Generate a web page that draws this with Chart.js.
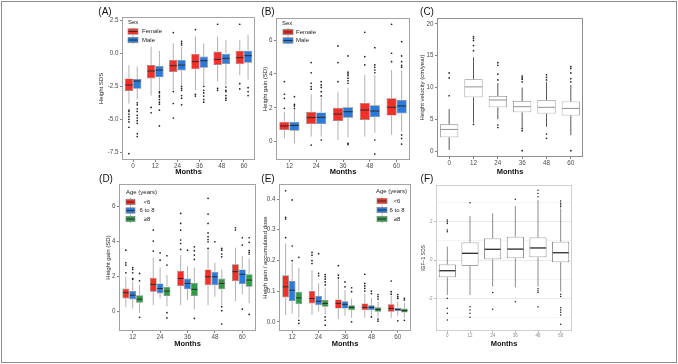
<!DOCTYPE html>
<html><head><meta charset="utf-8">
<script src="https://cdn.jsdelivr.net/npm/chart.js@4"></script>
<style>
html,body{margin:0;padding:0;background:#fff;}
#fig{position:relative;width:678px;height:364px;overflow:hidden;background:#fff;}
#frame{position:absolute;left:1px;top:1px;width:674px;height:360px;border:1px solid #8c8c8c;}
canvas{position:absolute;}
.lab{position:absolute;font:10px 'Liberation Sans',Arial,sans-serif;color:#111;transform:translate(-50%,-50%);white-space:nowrap;}
</style></head><body>
<div id="fig"><div id="frame"></div>
<canvas id="cA"></canvas><canvas id="cB"></canvas><canvas id="cC"></canvas>
<canvas id="cD"></canvas><canvas id="cE"></canvas><canvas id="cF"></canvas>
<div class="lab" style="left:105px;top:11px">(A)</div>
<div class="lab" style="left:268px;top:11px">(B)</div>
<div class="lab" style="left:427px;top:11px">(C)</div>
<div class="lab" style="left:106px;top:178px">(D)</div>
<div class="lab" style="left:268px;top:178px">(E)</div>
<div class="lab" style="left:427px;top:178px">(F)</div>
</div>
<script>
const FONT = "'Liberation Sans', Arial, sans-serif";
const months6 = ['0','12','24','36','48','60'];
const months5 = ['12','24','36','48','60'];

// each box: [lower whisker, Q1, median, Q3, upper whisker]
// (A) Height SDS by sex
const A_female = [[-3.8,-2.86,-2.4,-1.9,-0.89],[-3.2,-1.9,-1.34,-0.89,0.5],[-2.8,-1.42,-0.94,-0.5,0.76],[-2.8,-1.2,-0.63,0.0,1.27],[-2.15,-0.89,-0.46,0.13,1.27],[-1.65,-0.82,-0.33,0.2,1.0]];
const A_female_out = [[-4.3,-4.4,-4.6,-4.8,-5.0,-5.2,-5.6,-7.6],[-4.1,-4.5],[1.57,-2.9,-3.8,-4.9],[1.8,-3.1,-3.24],[2.2,-2.66,-2.8],[2.2,-2.3,-2.7]];
const A_male = [[-3.5,-2.68,-2.1,-1.95,-1.0],[-2.8,-1.82,-1.27,-0.96,0.18],[-2.4,-1.3,-0.89,-0.5,0.5],[-2.4,-1.09,-0.56,-0.25,0.76],[-2.4,-0.81,-0.38,0.0,1.0],[-2.0,-0.72,-0.18,0.2,1.4]];
const A_male_out = [[-3.75,-3.9,-4.2,-4.4,-4.7,-4.9,-5.1,-5.3,-6.1,-6.3],[-2.9,-3.0,-3.2,-3.3,-3.5,-3.7,-3.85,-4.3,-5.5],[0.9,0.76,0.63,-2.5,-2.66,-2.8,-3.2,-3.4,-3.9],[-2.5,-2.8,-3.0,-3.24,-3.5,-3.7],[-2.55,-2.8,-2.9,-3.2,-3.4,-3.55],[-2.6,-2.9,-3.2]];

// (B) Height gain (SD) by sex
const B_female = [[0.2,0.69,0.93,1.18,1.77],[0.3,1.04,1.42,1.77,2.8],[0.1,1.22,1.63,2.0,2.95],[0.3,1.28,1.87,2.3,3.94],[0.4,1.54,2.03,2.56,4.23]];
const B_female_out = [[1.97,2.56,2.8,3.54],[4.67,4.07,3.45,3.25,3.1,-0.2],[5.65,4.67,3.54],[6.46,5.02,4.53],[6.93,5.22,4.72]];
const B_male = [[-0.1,0.65,0.96,1.18,1.9],[0.3,1.04,1.44,1.73,2.6],[0.26,1.42,1.77,2.03,3.2],[0.53,1.44,1.81,2.15,3.94],[0.6,1.67,2.11,2.46,4.23]];
const B_male_out = [[2.66,2.2,2.11,1.97],[3.54,3.35,3.2,2.95,2.7,0.1],[5.06,4.1,4.0,3.9,3.75,3.6,3.45,-0.1,-0.16],[5.55,4.53,4.39,4.23,4.07,0.1,-0.73],[5.9,5.06,4.72,4.5,4.4,0.4,0.2,-0.14]];

// (C) Height velocity (cm/year)
const C_all = [[0.16,2.16,3.4,4.2,6.6],[4.46,8.46,10.1,11.3,14.75],[5.0,6.88,8.03,8.66,10.7],[3.73,6.09,6.98,7.87,10.0],[3.8,5.9,6.88,8.03,10.9],[2.5,5.6,6.7,7.8,10.4]];
const C_all_out = [[12.3,11.5,8.7],[18.0,17.7,17.4,16.6,15.8,4.2],[13.9,13.5,12.1,11.2,4.1,3.7],[11.8,11.5,11.3,10.9,3.57,3.2,0.05],[12.0,11.6,11.2,2.68,2.0],[13.3,13.0,12.3,11.4,10.9,0.05]];

// (D) Height gain (SD) by age
const D_lt6 = [[0.25,0.76,1.09,1.33,2.0],[0.38,1.14,1.56,1.94,3.1],[0.38,1.47,1.9,2.34,3.24],[0.38,1.52,2.0,2.42,3.52],[0.61,1.75,2.29,2.71,3.66]];
const D_lt6_out = [[3.52,2.8,2.67,2.23],[4.67,4.04,3.47],[5.62,5.05,4.67,4.1,3.9,3.56],[6.48,5.58,5.05,4.51,4.29,4.13,4.0,3.62],[4.8,4.67]];
const D_6to8 = [[0.19,0.7,0.95,1.18,1.71],[0.76,1.05,1.33,1.62,2.53],[0.67,1.28,1.62,1.9,2.6],[0.86,1.52,2.0,2.29,2.8],[1.0,1.57,2.14,2.42,3.18]];
const D_6to8_out = [[2.53,2.42,2.23,1.9,1.85],[3.37,2.95],[3.52],[4.0],[4.23,3.81,0.15]];
const D_ge8 = [[-0.06,0.51,0.72,0.95,1.52],[0.32,0.9,1.18,1.43,2.1],[0.13,0.9,1.28,1.66,2.53],[0.38,1.28,1.62,1.9,2.42],[0.48,1.43,1.81,2.15,3.05]];
const D_ge8_out = [[2.19,1.77,-0.32],[3.2,2.67,-0.05,-0.35],[3.71,3.49,3.24,2.99,-0.38],[3.62,3.52,3.3,3.14,0.29,0.06,-0.7],[4.23,3.97,3.5,3.4,3.3,-0.15]];

// (E) Height gain / accumulated dose by age
const E_lt6 = [[0.022,0.079,0.114,0.152,0.255],[0.022,0.06,0.076,0.1,0.168],[0.009,0.043,0.06,0.073,0.139],[0.013,0.038,0.047,0.06,0.092],[0.013,0.033,0.043,0.057,0.085]];
const E_lt6_out = [[0.427,0.34,0.335,0.274],[0.226,0.217,0.199,0.19],[0.183,0.152,0.143],[0.155,0.125,0.117,0.109,0.1],[0.133,0.098,0.09]];
const E_6to8 = [[0.027,0.068,0.103,0.133,0.193],[0.033,0.054,0.067,0.084,0.125],[0.02,0.043,0.057,0.067,0.103],[0.02,0.038,0.047,0.054,0.078],[0.02,0.035,0.04,0.046,0.065]];
const E_6to8_out = [[0.397,0.247,0.199],[0.222,0.158,0.15],[0.13,0.114],[0.1,0.092,0.016],[0.089,0.082,0.076,0.003]];
const E_ge8 = [[0.013,0.057,0.078,0.098,0.176],[0.024,0.049,0.06,0.071,0.109],[0.013,0.038,0.047,0.054,0.076],[0.016,0.033,0.04,0.047,0.065],[0.013,0.03,0.037,0.043,0.062]];
const E_ge8_out = [[0.21,0.005,-0.005],[0.154,0.147,0.139,0.13,0.12,0.016,0.005,-0.011],[0.111,0.098,0.0],[0.089,0.082,0.074,0.009,0.002],[0.076,0.071,0.005]];

// (F) IGF-1 SDS
const F_all = [[-1.83,-0.9,-0.56,-0.23,0.7],[-1.83,-0.3,0.35,0.92,2.3],[-1.39,0.04,0.56,1.13,2.44],[-1.43,0.09,0.57,1.22,2.82],[-1.39,0.14,0.63,1.18,3.13],[-1.65,-0.12,0.38,0.96,2.7]];
const F_all_out = [[2.09,2.0,1.91,1.57,1.48,-2.0,-2.52,-2.78,-3.13],[2.99,-2.44,-2.61,-2.78,-2.99],[-1.7,-2.57],[3.17,-2.18],[3.65,3.48,3.3,-1.5,-1.6,-1.7,-2.44],[3.08,2.96,2.87,2.78,-1.79,-1.91,-2.49,-2.61,-2.73,-2.87,-3.36]];

const sexNames = ['Female','Male'];
const ageNames = ['<6','6 to 8','\u22658'];
const RED = '#F2302A', BLUE = '#2D7BD8', GREEN = '#2E9C46';

const SPECS = {};

const boxPlugin = {
  id: 'boxes',
  beforeDatasetsDraw(chart) {
    const sp = SPECS[chart.canvas.id]; const ctx = chart.ctx; const ys = chart.scales.y;
    const ca = chart.chartArea;
    ctx.save();
    ctx.beginPath(); ctx.rect(ca.left, ca.top, ca.right - ca.left, ca.bottom - ca.top); ctx.clip();
    ctx.strokeStyle = sp.whisker; ctx.lineWidth = sp.whiskerW;
    sp.series.forEach((s, di) => {
      const meta = chart.getDatasetMeta(di);
      meta.data.forEach((el, i) => {
        const st = s.stats[i]; const x = el.x;
        ctx.beginPath();
        ctx.moveTo(x, ys.getPixelForValue(st[3])); ctx.lineTo(x, ys.getPixelForValue(st[4]));
        ctx.moveTo(x, ys.getPixelForValue(st[1])); ctx.lineTo(x, ys.getPixelForValue(st[0]));
        ctx.stroke();
      });
    });
    ctx.restore();
  },
  afterDatasetsDraw(chart) {
    const sp = SPECS[chart.canvas.id]; const ctx = chart.ctx; const ys = chart.scales.y;
    const ca = chart.chartArea;
    ctx.save();
    sp.series.forEach((s, di) => {
      const meta = chart.getDatasetMeta(di);
      meta.data.forEach((el, i) => {
        const st = s.stats[i]; const x = el.x; const w = el.width;
        ctx.strokeStyle = sp.median; ctx.lineWidth = sp.medianW;
        const ym = ys.getPixelForValue(st[2]);
        ctx.beginPath(); ctx.moveTo(x - w / 2 + 0.5, ym); ctx.lineTo(x + w / 2 - 0.5, ym); ctx.stroke();
        ctx.fillStyle = '#1e1e1e';
        s.outs[i].forEach(v => {
          ctx.beginPath(); ctx.arc(x, ys.getPixelForValue(v), sp.ptR, 0, Math.PI * 2); ctx.fill();
        });
      });
    });
    // panel frame
    ctx.strokeStyle = sp.frame; ctx.lineWidth = 1;
    ctx.strokeRect(Math.round(ca.left) + 0.5, Math.round(ca.top) + 0.5, Math.round(ca.right - ca.left) - 1, Math.round(ca.bottom - ca.top) - 1);
    // legend inside the panel
    if (sp.legend) {
      const L = sp.legend; const ox = sp.canvasLeft, oy = sp.canvasTop;
      ctx.font = '6px ' + FONT; ctx.fillStyle = '#222'; ctx.textBaseline = 'middle'; ctx.textAlign = 'left';
      ctx.fillText(L.title, L.titleX - ox, L.titleY - oy);
      L.items.forEach((it, k) => {
        const cy = L.ys[k] - oy; const sx = L.swX - ox; const sw = L.swW;
        ctx.strokeStyle = '#8a8a8a'; ctx.lineWidth = 0.7;
        ctx.beginPath(); ctx.moveTo(sx + sw / 2, cy - 4); ctx.lineTo(sx + sw / 2, cy + 4); ctx.stroke();
        ctx.fillStyle = it.color; ctx.fillRect(sx, cy - 2.7, sw, 5.4);
        ctx.strokeRect(sx, cy - 2.7, sw, 5.4);
        ctx.strokeStyle = '#2b2b2b'; ctx.lineWidth = 0.9;
        ctx.beginPath(); ctx.moveTo(sx + 0.5, cy); ctx.lineTo(sx + sw - 0.5, cy); ctx.stroke();
        ctx.fillStyle = '#222'; ctx.textAlign = L.align;
        ctx.fillText(it.name, L.labX - ox, cy);
      });
    }
    ctx.restore();
  }
};

function makePanel(id, sp) {
  const lhY = sp.yTitleSize * 1.2, lhX = 7.5 * 1.2;
  const cl = Math.floor(sp.yTitleCX - lhY / 2 - 1);
  const ct = sp.box.t - 4;
  const cb = Math.ceil(sp.xTitleCY + lhX / 2 + 1);
  const cw = sp.box.r + 4 - cl, ch = cb - ct;
  const Wy = sp.box.l - cl, Hx = cb - sp.box.b;
  const padTitleY = sp.yTitleCX - cl - lhY / 2;
  const padTitleX = cb - sp.xTitleCY - lhX / 2;
  sp.canvasLeft = cl; sp.canvasTop = ct;
  SPECS[id] = sp;
  const cv = document.getElementById(id);
  cv.width = cw; cv.height = ch;
  cv.style.left = cl + 'px'; cv.style.top = ct + 'px';
  cv.style.width = cw + 'px'; cv.style.height = ch + 'px';
  const tickCol = sp.tickCol || '#4d4d4d';
  new Chart(cv, {
    type: 'bar',
    data: {
      labels: sp.labels,
      datasets: sp.series.map(s => ({
        label: s.name,
        data: s.stats.map(v => [v[1], v[3]]),
        backgroundColor: s.fill,
        borderColor: sp.border,
        borderWidth: sp.borderW,
        borderSkipped: false,
        categoryPercentage: 0.75,
        barPercentage: 1.0
      }))
    },
    options: {
      responsive: false, animation: false, devicePixelRatio: 1, events: [],
      layout: { padding: { left: 0, top: 4, right: 4, bottom: 0 } },
      plugins: { legend: { display: false }, tooltip: { enabled: false } },
      scales: {
        x: {
          type: 'category', offset: true,
          afterFit: s => { s.height = Hx; s.paddingLeft = 0; s.paddingRight = 0; s.paddingTop = 0; s.paddingBottom = 0; },
          border: { display: false },
          grid: { offset: false, drawOnChartArea: false, tickLength: 2, tickColor: sp.tickMark || '#666', lineWidth: 0.8 },
          ticks: { autoSkip: false, maxRotation: 0, minRotation: 0, padding: 0.5, color: tickCol, font: { size: sp.tickSize, family: FONT } },
          title: { display: true, text: 'Months', color: '#111', font: { size: 7.5, weight: 'bold', family: FONT }, padding: { top: 0, bottom: padTitleX } }
        },
        y: {
          type: 'linear', min: sp.y.min, max: sp.y.max,
          afterFit: s => { s.width = Wy; s.paddingLeft = 0; s.paddingRight = 0; s.paddingTop = 0; s.paddingBottom = 0; },
          border: { display: false },
          grid: {
            drawOnChartArea: !!sp.grid, tickLength: 2, lineWidth: 0.8,
            color: c => sp.grid ? (Math.abs(c.tick.value % 2) < 1e-9 ? '#e4e4e4' : '#f1f1f1') : '#666',
            tickColor: c => (sp.y.show && !sp.y.show(c.tick.value)) ? 'rgba(0,0,0,0)' : (sp.tickMark || '#666')
          },
          ticks: {
            stepSize: sp.y.step, includeBounds: false, autoSkip: false, padding: 1.5,
            color: tickCol, font: { size: sp.tickSize, family: FONT },
            callback: v => sp.y.fmt(v)
          },
          title: { display: true, text: sp.yTitle, color: '#222', font: { size: sp.yTitleSize, family: FONT }, padding: { top: padTitleY, bottom: 0 } }
        }
      }
    },
    plugins: [boxPlugin]
  });
}

const colBoxStyle = { border: '#7f7f7f', borderW: 0.7, whisker: '#8f8f8f', whiskerW: 0.7, median: '#2b2b2b', medianW: 1.0, frame: '#a3a3a3', ptR: 0.85 };

makePanel('cA', Object.assign({}, colBoxStyle, {
  box: { l: 122, t: 17, r: 255, b: 160 }, yTitleCX: 101.5, xTitleCY: 172,
  yTitle: 'Height SDS', yTitleSize: 6, tickSize: 6.3, labels: months6,
  y: { min: -8.08, max: 2.75, step: 2.5, fmt: v => v.toFixed(1) },
  series: [{ name: sexNames[0], stats: A_female, outs: A_female_out, fill: RED }, { name: sexNames[1], stats: A_male, outs: A_male_out, fill: BLUE }],
  legend: { title: 'Sex', titleX: 128, titleY: 22, swX: 128, swW: 10, ys: [31.5, 40], labX: 142, align: 'left',
    items: [{ name: sexNames[0], color: RED }, { name: sexNames[1], color: BLUE }] }
}));

makePanel('cB', Object.assign({}, colBoxStyle, {
  box: { l: 276, t: 18, r: 410, b: 160 }, yTitleCX: 265, xTitleCY: 172,
  yTitle: 'Height gain (SD)', yTitleSize: 6, tickSize: 6.3, labels: months5,
  y: { min: -1.08, max: 7.3, step: 2, fmt: v => String(v) },
  series: [{ name: sexNames[0], stats: B_female, outs: B_female_out, fill: RED }, { name: sexNames[1], stats: B_male, outs: B_male_out, fill: BLUE }],
  legend: { title: 'Sex', titleX: 282, titleY: 23, swX: 283, swW: 10, ys: [32, 40.5], labX: 296, align: 'left',
    items: [{ name: sexNames[0], color: RED }, { name: sexNames[1], color: BLUE }] }
}));

makePanel('cC', {
  border: '#858585', borderW: 0.8, whisker: '#2e2e2e', whiskerW: 0.8, median: '#858585', medianW: 0.9, frame: '#8f8f8f', ptR: 0.85,
  box: { l: 437, t: 18, r: 583, b: 157 }, yTitleCX: 422, xTitleCY: 172,
  yTitle: 'Height velocity (cm/year)', yTitleSize: 6, tickSize: 6.3, labels: months6,
  y: { min: -0.94, max: 20.94, step: 5, fmt: v => String(v) },
  series: [{ name: 'All', stats: C_all, outs: C_all_out, fill: '#ffffff' }]
});

makePanel('cD', Object.assign({}, colBoxStyle, {
  box: { l: 119, t: 184, r: 256, b: 331 }, yTitleCX: 108, xTitleCY: 344,
  yTitle: 'Height gain (SD)', yTitleSize: 6, tickSize: 6.3, labels: months5,
  y: { min: -1.1, max: 7.3, step: 2, fmt: v => String(v) },
  series: [{ name: ageNames[0], stats: D_lt6, outs: D_lt6_out, fill: RED }, { name: ageNames[1], stats: D_6to8, outs: D_6to8_out, fill: BLUE }, { name: ageNames[2], stats: D_ge8, outs: D_ge8_out, fill: GREEN }],
  legend: { title: 'Age (years)', titleX: 126, titleY: 192, swX: 126, swW: 9, ys: [202, 210.5, 219], labX: 147, align: 'center',
    items: [{ name: ageNames[0], color: RED }, { name: ageNames[1], color: BLUE }, { name: ageNames[2], color: GREEN }] }
}));

makePanel('cE', Object.assign({}, colBoxStyle, {
  box: { l: 279, t: 184, r: 411, b: 331 }, yTitleCX: 265.5, xTitleCY: 344,
  yTitle: 'Heigh gain / accumulated dose', yTitleSize: 6, tickSize: 6.3, labels: months5,
  y: { min: -0.030, max: 0.449, step: 0.1, fmt: v => v.toFixed(1) },
  series: [{ name: ageNames[0], stats: E_lt6, outs: E_lt6_out, fill: RED }, { name: ageNames[1], stats: E_6to8, outs: E_6to8_out, fill: BLUE }, { name: ageNames[2], stats: E_ge8, outs: E_ge8_out, fill: GREEN }],
  legend: { title: 'Age (years)', titleX: 376, titleY: 191, swX: 377, swW: 10, ys: [201, 210, 219], labX: 397, align: 'center',
    items: [{ name: ageNames[0], color: RED }, { name: ageNames[1], color: BLUE }, { name: ageNames[2], color: GREEN }] }
}));

makePanel('cF', {
  border: '#5e5e5e', borderW: 0.8, whisker: '#6e6e6e', whiskerW: 0.8, median: '#2a2a2a', medianW: 1.3, frame: '#d0d0d0', ptR: 0.75,
  box: { l: 436, t: 185, r: 572, b: 331 }, yTitleCX: 424, xTitleCY: 344,
  yTitle: 'IGF\u22121 SDS', yTitleSize: 5, tickSize: 4.5, tickCol: '#8a8a8a', tickMark: '#aaaaaa', labels: months6, grid: true,
  y: { min: -3.71, max: 3.92, step: 1, fmt: v => (Math.abs(v % 2) < 1e-9 ? String(v) : ''), show: v => Math.abs(v % 2) < 1e-9 },
  series: [{ name: 'All', stats: F_all, outs: F_all_out, fill: '#ffffff' }]
});
</script>
</body></html>
